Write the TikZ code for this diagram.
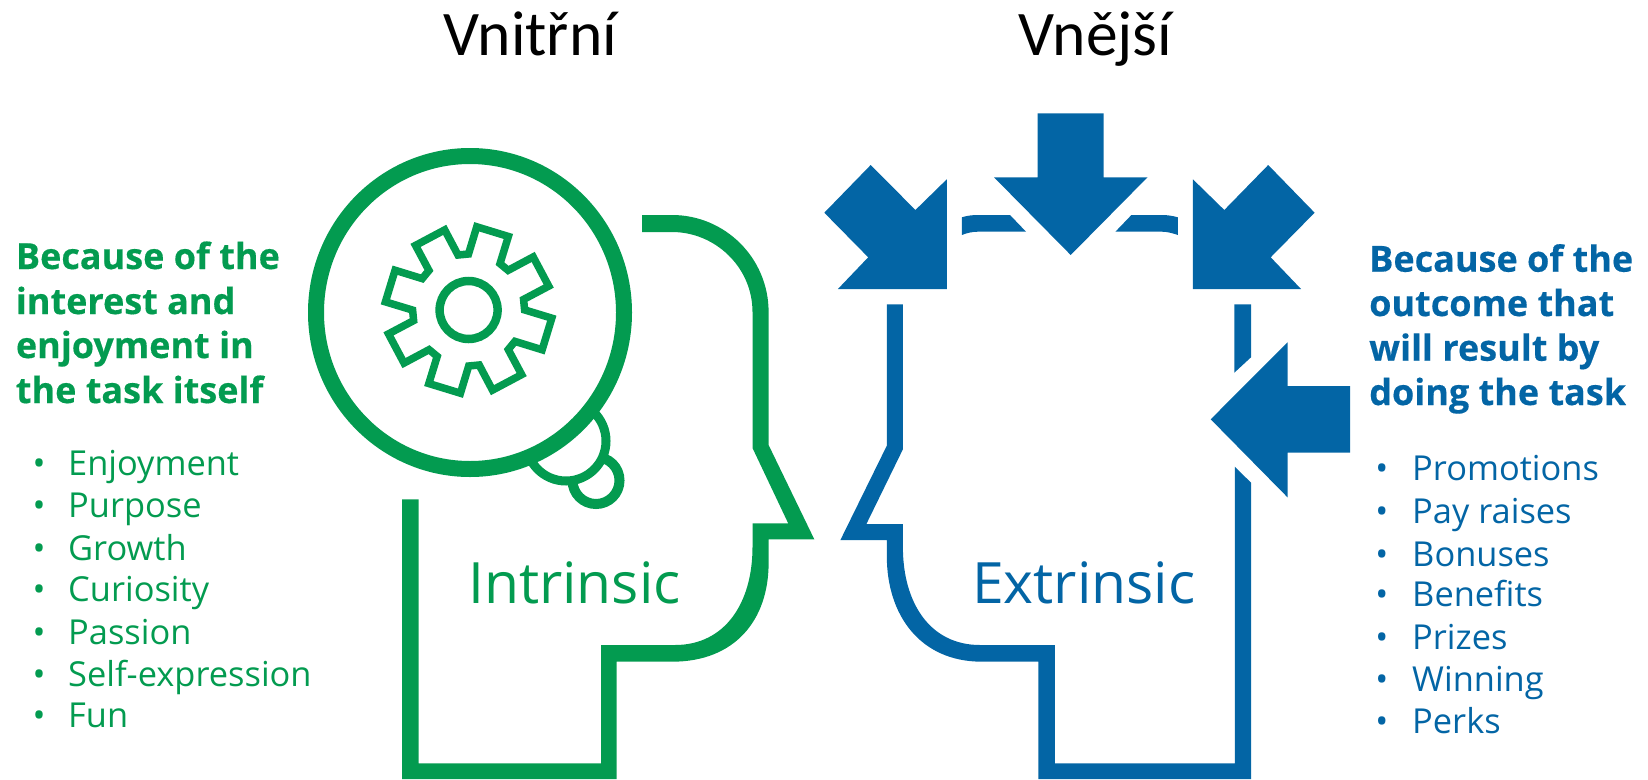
\documentclass[tikz,border=0pt]{standalone}
\usepackage{fontspec}
\setmainfont{Open Sans}[BoldFeatures={FakeBold=0.4}]
\newfontfamily\titlefont{Carlito}
\definecolor{mygreen}{RGB}{3,155,80}
\definecolor{myblue}{RGB}{3,101,165}
\tikzset{
  title/.style={inner sep=0,anchor=base west,black,font=\titlefont\fontsize{63.5}{63.5}\selectfont},
  headg/.style={inner sep=0,anchor=base west,mygreen,font=\bfseries\fontsize{36}{36}\selectfont},
  headb/.style={inner sep=0,anchor=base west,myblue,font=\bfseries\fontsize{36}{36}\selectfont},
  itemg/.style={inner sep=0,anchor=base west,mygreen,font=\fontsize{34.4}{34.4}\selectfont},
  itemb/.style={inner sep=0,anchor=base west,myblue,font=\fontsize{34.4}{34.4}\selectfont},
  bulg/.style={inner sep=0,anchor=base,mygreen,font=\fontsize{34.4}{34.4}\selectfont},
  bulb/.style={inner sep=0,anchor=base,myblue,font=\fontsize{34.4}{34.4}\selectfont},
  bigg/.style={inner sep=0,anchor=base west,mygreen,font=\fontsize{57}{57}\selectfont},
  bigb/.style={inner sep=0,anchor=base west,myblue,font=\fontsize{57}{57}\selectfont},
  ringg/.style={draw=mygreen,fill=white},
  solidb/.style={fill=myblue,draw=none},
  solidg/.style={fill=mygreen,draw=none}
}
\begin{document}
\begin{tikzpicture}[x=1pt,y=-1pt]
\useasboundingbox (0,0) rectangle (1648,779);
% green head
\path[solidg] (642,215) -- (672,215) .. controls (725,215) and (768.6,258) .. (768.6,312)
  -- (768.6,445) -- (814.3,539.3) -- (768.6,539.3) -- (768.6,563)
  .. controls (768.6,620) and (735,661.7) .. (672,661.7) -- (616.5,661.7) -- (616.5,779)
  -- (402,779) -- (402,499.3) -- (418.5,499.3) -- (418.5,763.3) -- (601,763.3) -- (601,645)
  -- (675,645) .. controls (725,645) and (752.5,603) .. (752.5,547) -- (752.5,523.3)
  -- (788.2,523.3) -- (752.5,448) -- (752.5,312)
  .. controls (752.5,267) and (715,232) .. (672,232) -- (642,232) -- cycle;
% bubbles
\draw[ringg,line width=10] (596,480.5) circle [radius=23.5];
\draw[ringg,line width=9] (566,441) circle [radius=40];
\draw[ringg,line width=16] (470,312.5) ellipse [x radius=154,y radius=156.5];
% gear
\begin{scope}[shift={(468.6,310)}]
\draw[mygreen,line width=7.5,miter limit=6] (259.1:56)
  \foreach \a in {-73,-28,17,62,107,152,197,242}{
    -- ({\a-17.1}:56) -- ({\a-11.4}:83.6) -- ({\a+11.4}:83.6) -- ({\a+17.1}:56)
  } -- cycle;
\draw[mygreen,line width=8.5] (0,0) circle [radius=29];
\end{scope}
% blue head
\path[solidb] (886.8,304.3) -- (902.9,304.3) -- (902.9,449.3) -- (866.4,524) -- (902.9,524)
  -- (902.9,547) .. controls (902.9,603) and (930,645) .. (980,645) -- (1054.8,645)
  -- (1054.8,763.3) -- (1234.8,763.3) -- (1234.8,466.7) -- (1251,482.7) -- (1251,779)
  -- (1038.4,779) -- (1038.4,661.7) -- (982,661.7)
  .. controls (920,661.7) and (886.8,615) .. (886.8,556) -- (886.8,540) -- (840.4,540)
  -- (886.8,445.7) -- cycle;
\path[solidb] (1234.3,304.3) -- (1251,304.3) -- (1251,357.3) -- (1234.3,372.7) -- cycle;
\path[solidb] (961.8,217.3) .. controls (967,215.7) and (972,215) .. (978,215) -- (1010,215)
  -- (1026,231.7) -- (978,231.7) .. controls (972,231.7) and (967,233) .. (961.8,235) -- cycle;
\path[solidb] (1177.9,217.3) .. controls (1172,215.7) and (1167,215) .. (1161.8,215) -- (1131.4,215)
  -- (1115.4,231.7) -- (1161.8,231.7) .. controls (1167,231.7) and (1172,233) .. (1177.9,235) -- cycle;
% arrows
\path[solidb] (1037.5,113.3) -- (1103.6,113.3) -- (1103.6,177.3) -- (1147.5,177.3) -- (1070.7,255)
  -- (994,177.3) -- (1037.5,177.3) -- cycle;
\path[solidb] (870.7,165) -- (915.4,210) -- (946.8,179.3) -- (946.8,289) -- (837.9,289)
  -- (868.2,257.3) -- (824.3,212.7) -- cycle;
\path[solidb] (1268.2,165) -- (1224.3,210) -- (1192.9,179.3) -- (1192.9,289) -- (1301,289)
  -- (1270.7,257.3) -- (1314.6,212.7) -- cycle;
\path[solidb] (1210.7,419.3) -- (1287.5,342.3) -- (1287.5,386) -- (1350,386) -- (1350,452.7)
  -- (1287.5,452.7) -- (1287.5,497.3) -- cycle;
% titles
\node[title] (t1) at (443,55) {Vnitřní};
\node[title] (t2) at (1018,55) {Vnější};
\node[bigg] (big1) at (468,603.3) {Intrinsic};
\node[bigb] (big2) at (972,603.3) {Extrinsic};
% left text
\node[headg] (hg1) at (15.7,269) {Because of the};
\node[headg] (hg2) at (15.7,314) {interest and};
\node[headg] (hg3) at (15.7,358) {enjoyment in};
\node[headg] (hg4) at (15.7,403) {the task itself};
\node[itemg] (ig1) at (68,475) {Enjoyment};
\node[itemg] (ig2) at (68,517) {Purpose};
\node[itemg] (ig3) at (68,560) {Growth};
\node[itemg] (ig4) at (68,601.7) {Curiosity};
\node[itemg] (ig5) at (68,644) {Passion};
\node[itemg] (ig6) at (68,686) {Self-expression};
\node[itemg] (ig7) at (68,727) {Fun};
\node[bulg] (bg1) at (39,475) {•};
\node[bulg] (bg2) at (39,517) {•};
\node[bulg] (bg3) at (39,560) {•};
\node[bulg] (bg4) at (39,601.7) {•};
\node[bulg] (bg5) at (39,644) {•};
\node[bulg] (bg6) at (39,686) {•};
\node[bulg] (bg7) at (39,727) {•};
% right text
\node[headb] (hb1) at (1369,271.7) {Because of the};
\node[headb] (hb2) at (1369,316) {outcome that};
\node[headb] (hb3) at (1369,360.7) {will result by};
\node[headb] (hb4) at (1369,405) {doing the task};
\node[itemb] (ib1) at (1412,480.7) {Promotions};
\node[itemb] (ib2) at (1412,523) {Pay raises};
\node[itemb] (ib3) at (1412,566) {Bonuses};
\node[itemb] (ib4) at (1412,606.7) {Benefits};
\node[itemb] (ib5) at (1412,649) {Prizes};
\node[itemb] (ib6) at (1412,691.7) {Winning};
\node[itemb] (ib7) at (1412,733) {Perks};
\node[bulb] (bb1) at (1381.7,480.7) {•};
\node[bulb] (bb2) at (1381.7,523) {•};
\node[bulb] (bb3) at (1381.7,566) {•};
\node[bulb] (bb4) at (1381.7,606.7) {•};
\node[bulb] (bb5) at (1381.7,649) {•};
\node[bulb] (bb6) at (1381.7,691.7) {•};
\node[bulb] (bb7) at (1381.7,733) {•};
\end{tikzpicture}
\end{document}
